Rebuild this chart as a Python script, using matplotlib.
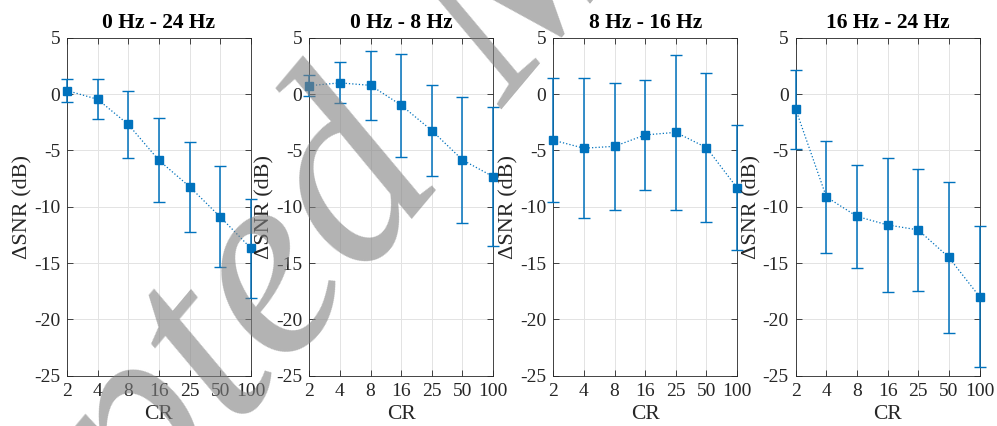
import matplotlib
matplotlib.use('Agg')
import matplotlib.pyplot as plt

# compression ratios on the x axis
cr_labels = ['2', '4', '8', '16', '25', '50', '100']

titles = ['0 Hz - 24 Hz', '0 Hz - 8 Hz', '8 Hz - 16 Hz', '16 Hz - 24 Hz']

# mean delta SNR (dB) and error (+/-) for each band
snr_0_24 = [0.31, -0.47, -2.70, -5.88, -8.22, -10.90, -13.68]
err_0_24 = [0.99, 1.77, 2.95, 3.74, 4.00, 4.49, 4.39]

snr_0_8 = [0.74, 0.99, 0.77, -0.99, -3.24, -5.85, -7.33]
err_0_8 = [0.93, 1.82, 3.07, 4.58, 4.03, 5.59, 6.18]

snr_8_16 = [-4.10, -4.81, -4.64, -3.63, -3.40, -4.76, -8.33]
err_8_16 = [5.52, 6.20, 5.66, 4.89, 6.90, 6.63, 5.55]

snr_16_24 = [-1.35, -9.13, -10.86, -11.62, -12.06, -14.50, -17.98]
err_16_24 = [3.50, 5.00, 4.58, 5.96, 5.41, 6.70, 6.28]

all_snr = [snr_0_24, snr_0_8, snr_8_16, snr_16_24]
all_err = [err_0_24, err_0_8, err_8_16, err_16_24]

plt.rcParams['font.family'] = ['Liberation Serif', 'DejaVu Serif']
plt.rcParams['font.size'] = 14
plt.rcParams['axes.unicode_minus'] = False

blue = '#0072BD'
axcol = '#262626'

fig = plt.figure(figsize=(9.97, 4.26), dpi=100)
lefts = [67 / 997, 309.3 / 997, 553.3 / 997, 795.7 / 997]
w = 183.8 / 997
bottom = 1 - 375.7 / 426
h = 338 / 426

xpos = list(range(len(cr_labels)))
for i in range(4):
    ax = fig.add_axes([lefts[i], bottom, w, h])
    ax.plot(xpos, all_snr[i], ':', color=blue, lw=0.9, clip_on=False, zorder=3)
    ax.errorbar(xpos, all_snr[i], yerr=all_err[i], fmt='none', ecolor=blue,
                elinewidth=1.1, capsize=4.5, capthick=1.0, clip_on=False, zorder=3)
    ax.plot(xpos, all_snr[i], 's', color=blue, ms=5.8, clip_on=False, zorder=4)
    ax.set_xlim(0, len(cr_labels) - 1)
    ax.set_ylim(-25, 5)
    ax.set_xticks(xpos)
    ax.set_xticklabels(cr_labels)
    ax.set_yticks(range(-25, 6, 5))
    ax.grid(True, color='#e3e3e3', lw=0.7)
    ax.set_axisbelow(True)
    ax.tick_params(direction='in', length=4, width=0.6, colors=axcol,
                   top=True, right=True, labelsize=14, pad=5)
    for s in ax.spines.values():
        s.set_color(axcol)
        s.set_linewidth(0.6)
    ax.set_title(titles[i], fontweight='bold', fontsize=15.5, pad=7, color='black')
    ax.set_xlabel('CR', color=axcol, fontsize=15.5, labelpad=4)
    ax.set_ylabel('ΔSNR (dB)', color=axcol, fontsize=16, labelpad=1)

# watermark of the accepted manuscript
fig.text(0.455, 0.56, 'Accepted', rotation=50, rotation_mode='anchor',
         ha='right', va='baseline', fontsize=195, style='italic',
         color='#808080', alpha=0.6, family='Liberation Serif')
fig.text(0.506, 0.742, 'Manuscript', rotation=50, rotation_mode='anchor',
         ha='left', va='baseline', fontsize=195, style='italic',
         color='#808080', alpha=0.6, family='Liberation Serif')

plt.savefig('out.png', dpi=100)
